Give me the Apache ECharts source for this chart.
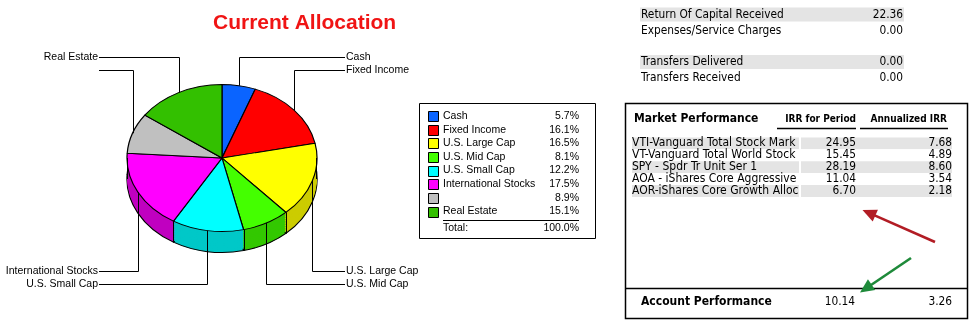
<!DOCTYPE html>
<html>
<head>
<meta charset="utf-8">
<title>Current Allocation</title>
<script src="https://cdn.jsdelivr.net/npm/echarts/dist/echarts.min.js"></script>
<style>
  html, body { margin: 0; padding: 0; background: #fff; }
  #wrap { position: relative; width: 973px; height: 327px; overflow: hidden; }
  #pie { position: absolute; left: 102px; top: 60px; width: 240px; height: 260px; transform-origin: 0 0; }
  #main { position: absolute; left: 0; top: 0; width: 973px; height: 327px; }
</style>
</head>
<body>
<div id="wrap">
  <div id="pie"></div>
  <div id="main"></div>
</div>
<script>
// allocation
const categories = ['Cash', 'Fixed Income', 'U.S. Large Cap', 'U.S. Mid Cap', 'U.S. Small Cap', 'International Stocks', '', 'Real Estate']
const weights = [5.7, 16.1, 16.5, 8.1, 12.2, 17.5, 8.9, 15.1]
const legendTotal = 100.0
const topColors = ['#0A64FF', '#FF0000', '#FFFF00', '#44FF00', '#00FFFF', '#FF00FF', '#C0C0C0', '#33C000']
const sideColors = ['#0850CC', '#CC0000', '#CCCC00', '#33C800', '#00C8C8', '#C000C0', '#9A9A9A', '#299A00']

// account summary
const summaryLabels = ['Return Of Capital Received', 'Expenses/Service Charges', '', 'Transfers Delivered', 'Transfers Received']
const summaryValues = [22.36, 0, null, 0, 0]

// market performance
const holdings = [
  'VTI-Vanguard Total Stock Market ETF',
  'VT-Vanguard Total World Stock ETF',
  'SPY - Spdr Tr Unit Ser 1',
  'AOA - iShares Core Aggressive Allocation ETF',
  'AOR-iShares Core Growth Allocation ETF'
]
const irrPeriod = [24.95, 15.45, 28.19, 11.04, 6.70]
const irrAnnual = [7.68, 4.89, 8.60, 3.54, 2.18]
const accountIrr = [10.14, 3.26]

// fonts
const ARIAL = '"Liberation Sans", Arial, sans-serif'
const TAHOMA = '"DejaVu Sans Condensed", "DejaVu Sans", sans-serif'

// tilted pie placement (screen px)
const cx = 222, cy = 158, rx = 95, ry = 73.5, depth = 21
const pieLeft = 102, pieTop = 60
const squash = ry / rx

// ---- pie (drawn flat, squashed with css) ----
const pieEl = document.getElementById('pie')
pieEl.style.transform = 'scaleY(' + squash + ')'
const pieChart = echarts.init(pieEl, null, { renderer: 'svg' })

const centerX = cx - pieLeft
const centerY = (cy - pieTop) / squash
const depthU = depth / squash

function pieLayer(colors, offset, border, z) {
  return {
    type: 'pie',
    center: [centerX, centerY + offset],
    radius: [0, rx],
    startAngle: 90,
    clockwise: true,
    silent: true,
    animation: false,
    z: z,
    label: { show: false },
    labelLine: { show: false },
    emphasis: { disabled: true },
    itemStyle: { borderColor: '#000', borderWidth: border },
    data: weights.map((v, i) => ({ value: v, name: categories[i], itemStyle: { color: colors[i] } }))
  }
}

const pieSeries = []
const steps = 12
for (let k = steps; k >= 1; k--) {
  pieSeries.push(pieLayer(sideColors, depthU * k / steps, k === steps ? 1.3 : 0, steps - k + 1))
}
pieSeries.push(pieLayer(topColors, 0, 1.2, steps + 2))
pieChart.setOption({ animation: false, series: pieSeries })

// ---- everything else ----
const total = weights.reduce((a, b) => a + b, 0)
const mids = []
const bounds = []
let acc = 0
weights.forEach((w) => {
  bounds.push(acc / total * 2 * Math.PI)
  mids.push((acc + w / 2) / total * 2 * Math.PI)
  acc += w
})

const els = []
const crisp = (v) => Math.round(v) + 0.5

function txt(x, y, text, opt, z) {
  const style = Object.assign({
    text: text, fill: '#000', fontSize: 10.5, fontFamily: ARIAL,
    align: 'left', verticalAlign: 'middle'
  }, opt || {})
  style.textAlign = style.align
  style.textVerticalAlign = style.verticalAlign
  return { type: 'text', x: x, y: y, z: z || 10, silent: true, style: style }
}
function line(x1, y1, x2, y2, color, w) {
  return { type: 'line', z: 10, silent: true, shape: { x1: x1, y1: y1, x2: x2, y2: y2 }, style: { stroke: color || '#000', lineWidth: w || 1 } }
}
function box(x, y, w, h, fill, stroke, lw, z) {
  return { type: 'rect', z: z || 5, silent: true, shape: { x: x, y: y, width: w, height: h }, style: { fill: fill || null, stroke: stroke || null, lineWidth: lw || 1 } }
}
function arrow(x1, y1, x2, y2, color) {
  const len = Math.hypot(x2 - x1, y2 - y1)
  const ux = (x2 - x1) / len, uy = (y2 - y1) / len
  const L = 14, W = 6.5
  const bx = x2 - ux * L, by = y2 - uy * L
  els.push(line(x1, y1, bx + ux * 2, by + uy * 2, color, 2.6))
  els.push({
    type: 'polygon', z: 10, silent: true,
    shape: { points: [[x2, y2], [bx - uy * W, by + ux * W], [bx + uy * W, by - ux * W]] },
    style: { fill: color }
  })
}

// side edges of the pie (slice boundaries on the front face)
bounds.forEach((a) => {
  if (Math.cos(a) < 0) {
    const x = crisp(cx + rx * Math.sin(a))
    const y = cy - ry * Math.cos(a)
    els.push(line(x, y, x, y + depth))
  }
})
els.push(line(cx - rx + 0.5, cy, cx - rx + 0.5, cy + depth))
els.push(line(cx + rx - 0.5, cy, cx + rx - 0.5, cy + depth))

// leader lines and labels
const topRows = [57.5, 70.5]
const bottomRows = [271.5, 284.5]
const groups = { ur: [], ul: [], lr: [], ll: [] }
mids.forEach((a, i) => {
  const key = (Math.cos(a) > 0 ? 'u' : 'l') + (Math.sin(a) > 0 ? 'r' : 'l')
  groups[key].push(i)
})
Object.keys(groups).forEach((key) => {
  const upper = key[0] === 'u'
  const right = key[1] === 'r'
  const list = groups[key].slice().sort((a, b) => {
    const da = Math.abs(Math.sin(mids[a])), db = Math.abs(Math.sin(mids[b]))
    return upper ? da - db : db - da
  })
  list.forEach((i, r) => {
    const a = mids[i]
    const ax = crisp(cx + rx * Math.sin(a))
    const ay = cy - ry * Math.cos(a)
    const ly = (upper ? topRows : bottomRows)[r]
    const ex = right ? 345 : 99
    els.push({
      type: 'polyline', z: 10, silent: true,
      shape: { points: [[ax, ay], [ax, ly], [ex, ly]] },
      style: { stroke: '#000', lineWidth: 1, fill: null }
    })
    if (categories[i]) {
      els.push(right ? txt(346, ly, categories[i]) : txt(98, ly, categories[i], { align: 'right' }))
    }
  })
})

// legend box
els.push(box(419.5, 103.5, 176, 135, null, '#000', 1))
const legendY0 = 116, legendStep = 13.65
categories.forEach((name, i) => {
  const y = legendY0 + i * legendStep
  els.push(box(428.5, Math.round(y - 5) + 0.5, 10, 10, topColors[i], '#000', 1))
  if (name) els.push(txt(443, y, name))
  els.push(txt(579, y, weights[i].toFixed(1) + '%', { align: 'right' }))
})
els.push(line(443, 220.5, 579, 220.5, '#000', 1))
els.push(txt(443, 228.5, 'Total:'))
els.push(txt(579, 228.5, legendTotal.toFixed(1) + '%', { align: 'right' }))

// account summary table
const sumY = [14.5, 30.5, 46.5, 62, 78]
summaryLabels.forEach((label, i) => {
  if (!label) return
  if (i === 0 || i === 3) els.push(box(640, sumY[i] - 7, 264, 14, '#E4E4E4'))
  els.push(txt(641, sumY[i], label, { fontSize: 11.8, fontFamily: TAHOMA }))
  els.push(txt(903, sumY[i], summaryValues[i].toFixed(2), { fontSize: 11.8, fontFamily: TAHOMA, align: 'right' }))
})

// market performance box
els.push(box(625.5, 103.5, 342, 215, null, '#000', 1.5))
els.push(line(625, 288.5, 968, 288.5, '#000', 1.5))
els.push(txt(634, 119, 'Market Performance', { fontSize: 12, fontFamily: TAHOMA, fontWeight: 'bold' }))
els.push(txt(856, 119, 'IRR for Period', { fontSize: 10, fontFamily: TAHOMA, fontWeight: 'bold', align: 'right' }))
els.push(txt(947, 119, 'Annualized IRR', { fontSize: 10, fontFamily: TAHOMA, fontWeight: 'bold', align: 'right' }))
els.push(line(777, 128.5, 856, 128.5, '#000', 1.5))
els.push(line(860, 128.5, 948, 128.5, '#000', 1.5))
const rowY0 = 143.3, rowH = 11.9
holdings.forEach((name, i) => {
  const y = rowY0 + i * rowH
  const shade = i % 2 === 0 ? '#E4E4E4' : '#FFFFFF'
  els.push(box(632, y - 5.9, 167, rowH, shade, null, 1, 2))
  els.push(txt(632, y, name, { fontSize: 12, fontFamily: TAHOMA, width: 169, overflow: 'truncate', ellipsis: '' }, 3))
  els.push(box(799, y - 5.9, 2, rowH, '#FFFFFF', null, 1, 4))
  els.push(box(801, y - 5.9, 151, rowH, shade, null, 1, 4))
  els.push(txt(856, y, irrPeriod[i].toFixed(2), { fontSize: 11.8, fontFamily: TAHOMA, align: 'right' }))
  els.push(txt(952, y, irrAnnual[i].toFixed(2), { fontSize: 11.8, fontFamily: TAHOMA, align: 'right' }))
})
els.push(txt(641, 302, 'Account Performance', { fontSize: 12, fontFamily: TAHOMA, fontWeight: 'bold' }))
els.push(txt(855, 302, accountIrr[0].toFixed(2), { fontSize: 11.8, fontFamily: TAHOMA, align: 'right' }))
els.push(txt(952, 302, accountIrr[1].toFixed(2), { fontSize: 11.8, fontFamily: TAHOMA, align: 'right' }))

// annotation arrows
arrow(935, 242, 862.5, 210, '#B21C24')
arrow(911, 258, 860, 292.5, '#1E8A3A')

const mainChart = echarts.init(document.getElementById('main'))
mainChart.setOption({
  animation: false,
  backgroundColor: 'transparent',
  title: {
    text: 'Current Allocation',
    left: 208,
    top: 8,
    textStyle: { color: '#F01414', fontSize: 21, fontWeight: 'bold', fontFamily: ARIAL }
  },
  graphic: els
})
</script>
</body>
</html>
